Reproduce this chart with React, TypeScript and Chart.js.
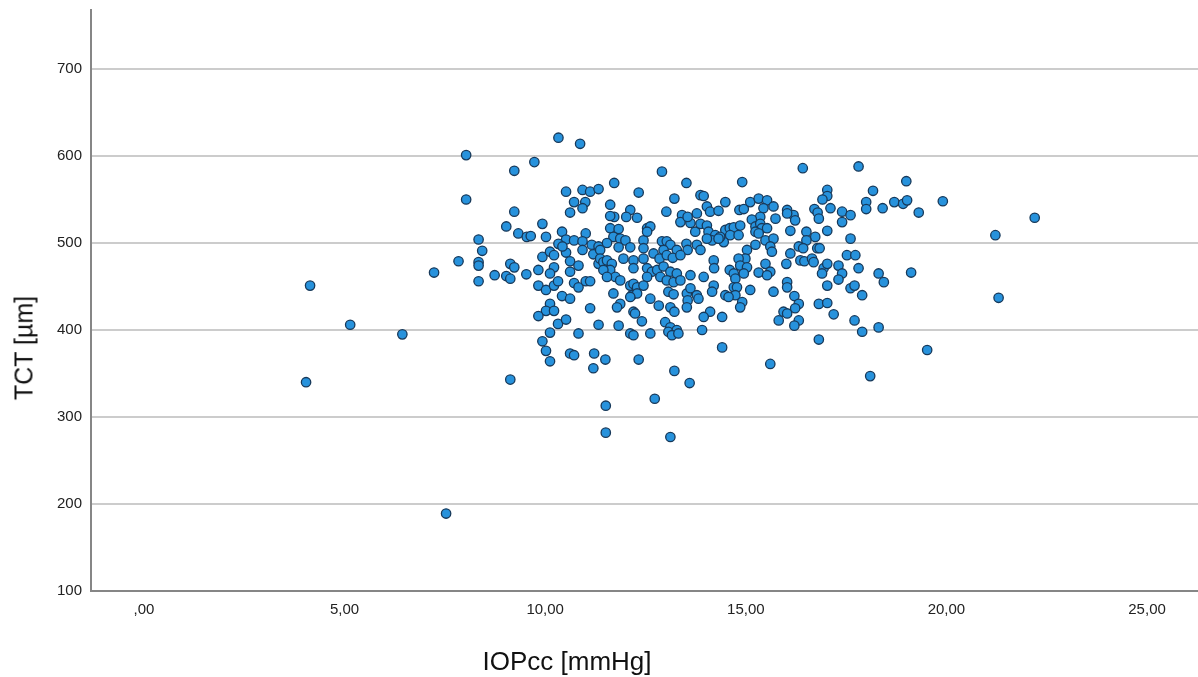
import React, { useEffect, useRef } from "react";
import { Chart, registerables } from "chart.js";

Chart.register(...registerables);

// IOPcc [mmHg] values (x)
const iopcc: number[] = [
  4.04, 4.14, 5.14, 6.44, 7.23, 7.53, 7.84, 8.03, 8.03, 8.34,
  8.43, 8.34, 8.34, 8.34, 8.74, 9.03, 9.23, 9.23, 9.73, 10.33,
  9.33, 9.54, 9.64, 9.93, 10.02, 9.13, 9.23, 9.03, 9.13, 9.53,
  9.13, 9.83, 9.93, 10.12, 10.22, 10.22, 10.12, 9.83, 10.02, 10.22,
  10.32, 10.12, 10.02, 10.22, 9.83, 10.32, 10.52, 10.12, 9.93, 10.02,
  10.12, 10.62, 10.72, 10.42, 10.62, 10.42, 10.52, 10.72, 10.33, 10.52,
  10.62, 10.62, 10.72, 10.52, 10.72, 10.62, 10.87, 10.93, 11.12, 11.33,
  11.0, 10.93, 11.01, 10.93, 11.16, 11.33, 10.43, 10.93, 10.83, 11.2,
  11.33, 10.83, 11.01, 11.12, 11.12, 11.33, 10.83, 11.22, 11.2, 11.5,
  11.51, 11.51,
  12.91, 11.72, 12.33, 13.52, 13.22, 11.62, 11.72, 11.62, 12.12, 12.02,
  12.29, 13.02, 13.41, 13.37, 13.62, 13.55, 11.62, 11.83, 11.7, 11.87,
  12.54, 12.62, 12.45, 12.54, 12.0, 12.12, 11.83, 11.54, 11.37, 12.45,
  12.91, 13.03, 13.12, 12.95, 13.28, 13.52, 13.55, 11.37, 11.45, 11.54,
  11.66, 11.62, 11.45, 11.95, 12.2, 12.2, 12.45, 12.7, 12.85, 13.03,
  13.18, 13.37, 12.54, 12.66, 12.54, 12.79, 12.87, 12.95, 13.12, 13.03,
  13.2, 13.28, 13.37, 11.75, 11.54, 11.87, 12.12, 12.2, 12.29, 12.45,
  11.7, 11.87, 11.79, 12.16, 12.29, 12.12, 12.62, 12.83, 13.07, 13.2,
  13.53, 13.55, 13.53, 12.2, 12.41, 12.24, 13.12, 13.22, 11.83, 12.12,
  12.2, 12.62, 12.99, 13.12, 13.07, 13.28, 13.16, 13.32, 12.33, 12.73,
  13.12, 13.22, 13.6,
  14.91, 13.87, 13.95, 14.49, 14.03, 14.11, 14.32, 13.78, 14.84, 14.95,
  15.11, 15.32, 15.53, 15.44, 15.69, 15.74, 15.36, 15.15, 13.74, 13.87,
  14.03, 14.07, 14.24, 14.16, 14.03, 14.49, 14.6, 14.7, 14.86, 14.61,
  14.82, 14.45, 14.36, 14.32, 15.24, 15.36, 15.4, 15.53, 15.24, 15.32,
  15.49, 15.69, 15.61, 15.65, 13.78, 13.87, 15.03, 15.24, 14.99, 14.82,
  14.86, 15.03, 13.62, 13.95, 14.2, 14.21, 14.6, 14.7, 14.74, 14.95,
  15.32, 15.49, 15.61, 15.53, 13.62, 14.2, 14.16, 14.7, 14.78, 14.74,
  14.91, 14.86, 14.49, 14.57, 15.11, 13.78, 13.82, 15.69, 14.11, 13.95,
  14.41, 13.91, 15.82, 15.94, 14.41, 15.61,
  17.03, 17.03, 16.91, 17.11, 16.03, 16.19, 16.23, 16.03, 16.71, 16.79,
  16.82, 17.4, 17.61, 17.4, 18.0, 18.0, 18.17, 16.11, 16.51, 16.73,
  16.51, 17.03, 17.61, 16.32, 16.43, 16.36, 16.46, 16.78, 16.84, 16.11,
  16.65, 16.69, 16.01, 16.94, 16.9, 17.03, 17.31, 17.4, 17.31, 17.52,
  17.73, 17.81, 17.03, 16.03, 16.03, 17.61, 17.71, 17.9, 16.21, 16.32,
  16.23, 16.03, 16.32, 16.21, 16.82, 17.03, 17.19, 17.71, 17.9, 16.82,
  16.42, 17.81, 19.0, 19.91, 19.31, 18.7, 18.92, 19.02, 18.41, 18.31,
  18.44, 19.12, 18.31, 19.52, 18.1, 21.22, 22.2, 21.3,
];

// TCT [µm] values (y)
const tct: number[] = [
  340, 451, 406, 395, 466, 189, 479, 601, 550, 504,
  491, 478, 474, 456, 463, 519, 583, 536, 593, 621,
  511, 507, 508, 522, 507, 476, 472, 462, 459, 464,
  343, 469, 484, 490, 486, 472, 465, 451, 446, 451,
  456, 430, 422, 422, 416, 407, 412, 397, 387, 376,
  364, 373, 371, 439, 436, 513, 504, 503, 499, 489,
  479, 467, 454, 559, 547, 535, 614, 561, 559, 562,
  547, 540, 511, 502, 498, 496, 496, 492, 474, 487,
  476, 449, 456, 456, 425, 406, 396, 373, 356, 366,
  313, 282,
  582, 569, 558, 569, 551, 544, 530, 531, 538, 530,
  529, 536, 532, 524, 523, 530, 517, 516, 507, 505,
  517, 519, 503, 513, 503, 495, 495, 500, 492, 494,
  502, 502, 498, 492, 492, 499, 492, 482, 478, 480,
  476, 469, 469, 482, 480, 471, 482, 488, 482, 486,
  483, 486, 471, 467, 461, 469, 461, 473, 467, 457,
  455, 465, 457, 461, 461, 457, 451, 453, 449, 451,
  442, 430, 426, 440, 442, 438, 436, 428, 444, 441,
  442, 434, 426, 421, 410, 419, 426, 421, 405, 396,
  394, 396, 409, 403, 398, 400, 394, 396, 366, 321,
  277, 353, 339,
  570, 555, 554, 547, 542, 536, 537, 534, 538, 539,
  547, 551, 549, 540, 542, 528, 530, 527, 513, 522,
  520, 513, 509, 503, 505, 515, 517, 518, 520, 509,
  509, 501, 507, 505, 519, 522, 517, 517, 513, 511,
  503, 505, 496, 490, 498, 492, 492, 498, 482, 482,
  474, 472, 463, 461, 480, 471, 469, 465, 459, 465,
  466, 476, 467, 463, 448, 451, 444, 449, 449, 440,
  432, 426, 440, 438, 446, 440, 436, 444, 421, 415,
  415, 400, 411, 421, 380, 361,
  561, 554, 550, 540, 538, 532, 526, 534, 539, 535,
  528, 536, 532, 524, 547, 539, 560, 514, 513, 507,
  503, 514, 505, 496, 494, 480, 479, 494, 494, 488,
  482, 478, 476, 471, 465, 476, 474, 465, 458, 486,
  486, 471, 451, 455, 449, 448, 451, 440, 439, 430,
  425, 419, 411, 405, 430, 431, 418, 411, 398, 389,
  586, 588, 571, 548, 535, 547, 545, 549, 540, 465,
  455, 466, 403, 377, 347, 509, 529, 437,
];

const xTickValues: number[] = [0, 5, 10, 15, 20, 25];
const xTickLabels: string[] = [",00", "5,00", "10,00", "15,00", "20,00", "25,00"];
const yTickValues: number[] = [100, 200, 300, 400, 500, 600, 700];
const yTickLabels: string[] = ["100", "200", "300", "400", "500", "600", "700"];
const xTitle = "IOPcc [mmHg]";
const yTitle = "TCT [µm]";

const FONT = 'Arial, "Liberation Sans", sans-serif';

export default function App() {
  const ref = useRef<HTMLCanvasElement>(null);

  useEffect(() => {
    if (!ref.current) return;
    const chart = new Chart(ref.current, {
      type: "scatter",
      data: {
        datasets: [
          {
            data: iopcc.map((x, i) => ({ x, y: tct[i] })),
            backgroundColor: "#2792DC",
            borderColor: "#17395a",
            borderWidth: 1.3,
            pointRadius: 4.7,
            pointHoverRadius: 4.7,
          },
        ],
      },
      options: {
        responsive: false,
        animation: false,
        devicePixelRatio: 1,
        layout: { autoPadding: false, padding: { top: 10, right: 0, bottom: 0, left: 0 } },
        plugins: {
          legend: { display: false },
          tooltip: { enabled: false },
        },
        scales: {
          x: {
            type: "linear",
            min: -1.32,
            max: 26.27,
            afterFit: (s: any) => {
              s.height = 86;
              s.paddingLeft = 0;
              s.paddingRight = 0;
              s.paddingTop = 0;
              s.paddingBottom = 0;
            },
            afterBuildTicks: (s: any) => {
              s.ticks = xTickValues.map((v) => ({ value: v }));
            },
            ticks: {
              autoSkip: false,
              maxRotation: 0,
              padding: 10,
              color: "#222",
              font: { family: FONT, size: 15 },
              callback: (v: any) => {
                const i = xTickValues.indexOf(Number(v));
                return i >= 0 ? xTickLabels[i] : "";
              },
            },
            grid: { display: false, drawTicks: false },
            border: { display: true, color: "#868686", width: 2 },
          },
          y: {
            type: "linear",
            min: 100,
            max: 767.8,
            afterFit: (s: any) => {
              s.width = 91;
              s.paddingLeft = 0;
              s.paddingRight = 0;
              s.paddingTop = 0;
              s.paddingBottom = 0;
            },
            afterBuildTicks: (s: any) => {
              s.ticks = yTickValues.map((v) => ({ value: v }));
            },
            ticks: {
              autoSkip: false,
              padding: 9,
              color: "#222",
              font: { family: FONT, size: 15 },
              callback: (v: any) => {
                const i = yTickValues.indexOf(Number(v));
                return i >= 0 ? yTickLabels[i] : "";
              },
            },
            grid: { color: "#cccccc", lineWidth: 2, drawTicks: false },
            border: { display: true, color: "#868686", width: 2 },
          },
        },
      },
    });
    return () => chart.destroy();
  }, []);

  return (
    <div
      style={{
        position: "fixed",
        left: 0,
        top: 0,
        width: 1198,
        height: 677,
        background: "#ffffff",
        overflow: "hidden",
      }}
    >
      <canvas ref={ref} width={1198} height={677} style={{ display: "block" }} />
      <div
        style={{
          position: "absolute",
          left: 567,
          top: 661,
          transform: "translate(-50%, -50%)",
          font: `26px ${FONT}`,
          lineHeight: "1",
          color: "#111",
          whiteSpace: "nowrap",
        }}
      >
        {xTitle}
      </div>
      <div
        style={{
          position: "absolute",
          left: 24,
          top: 348,
          transform: "translate(-50%, -50%) rotate(-90deg)",
          font: `25px ${FONT}`,
          lineHeight: "1",
          color: "#111",
          whiteSpace: "nowrap",
        }}
      >
        {yTitle}
      </div>
    </div>
  );
}
